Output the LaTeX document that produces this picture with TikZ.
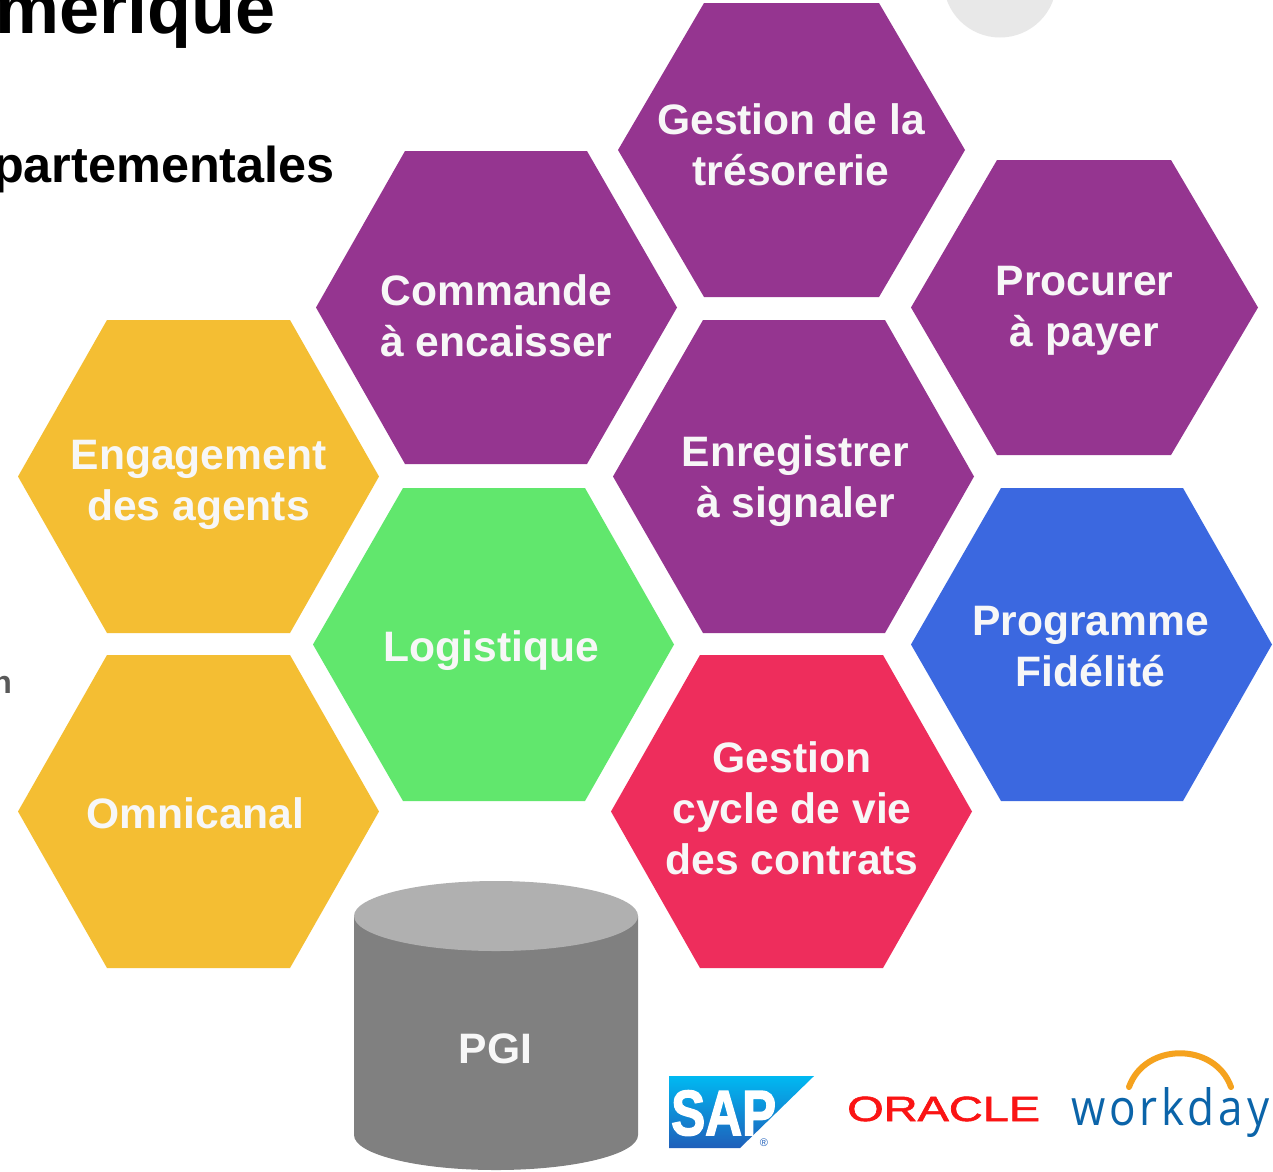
\documentclass[tikz,border=0pt]{standalone}
\usepackage{fontspec}
\setmainfont{Liberation Sans}
\newfontfamily\wdfont[LetterSpace=9]{Open Sans}
\newfontfamily\sapfont[FakeBold=2.5]{Liberation Sans Bold}
\newfontfamily\orfont[FakeBold=1.6]{Liberation Sans}
\usetikzlibrary{calc}
\definecolor{violetc}{HTML}{953590}
\definecolor{jaunec}{HTML}{F4BE33}
\definecolor{vertc}{HTML}{61E76D}
\definecolor{bleuc}{HTML}{3B68E0}
\definecolor{rosec}{HTML}{EE2D5C}
\definecolor{cylbody}{HTML}{808080}
\definecolor{cyltop}{HTML}{B0B0B0}
\definecolor{txtw}{HTML}{F7F7F7}
\definecolor{sapa}{HTML}{00B9F2}
\definecolor{sapb}{HTML}{1F5FBA}
\definecolor{oraclec}{HTML}{FA1414}
\definecolor{wdblue}{HTML}{0B64A9}
\definecolor{wdorange}{HTML}{F5A21E}
\tikzset{
  hexlabel/.style={inner sep=0pt,align=center,text=txtw,font=\fontsize{42.6}{51}\selectfont\bfseries},
  titletext/.style={inner sep=0pt,anchor=base east,text=black},
}
\newcommand{\hexa}[7]{% left, topleft, topright, right, top, bottom, colour
  \fill[#7] (#1,{(#5+#6)/2}) -- (#2,#5) -- (#3,#5) -- (#4,{(#5+#6)/2}) -- (#3,#6) -- (#2,#6) -- cycle;}
\begin{document}
\begin{tikzpicture}[x=1pt,y=-1pt]
\useasboundingbox (0,0) rectangle (1273,1171);
\clip (0,0) rectangle (1273,1171);
\fill[white] (0,0) rectangle (1273,1171);
% decorative circle
\fill[black!9] (1000,-19) circle[radius=56.5];
% titles
\node[titletext,font=\fontsize{72}{80}\selectfont\bfseries] (titre) at (275.5,33) {mérique};
\node[titletext,font=\fontsize{50.4}{60}\selectfont\bfseries] (soustitre) at (335,182.5) {partementales};
\node[titletext,text=black!65,font=\fontsize{32}{38}\selectfont\bfseries] (frag) at (12,693) {n};
% hexagons
\hexa{618}{704}{879}{965}{3}{297}{violetc}
\hexa{316}{405}{587}{677}{151}{464}{violetc}
\hexa{911}{997}{1171}{1258}{160}{455}{violetc}
\hexa{18}{107}{290}{379}{320}{633}{jaunec}
\hexa{613}{703}{885}{974}{320}{633}{violetc}
\hexa{313}{403}{585}{674}{488}{801}{vertc}
\hexa{911}{1001}{1183}{1272}{488}{801}{bleuc}
\hexa{18}{107}{290}{379}{655}{968}{jaunec}
\hexa{611}{700}{883}{972}{655}{968}{rosec}
% labels
\node[hexlabel] (tresorerie) at (791,149.5) {\strut Gestion de la\\\strut trésorerie};
\node[hexlabel] (commande) at (496.5,320.5) {\strut Commande\\\strut à encaisser};
\node[hexlabel] (procurer) at (1084.5,310.5) {\strut Procurer\\\strut à payer};
\node[hexlabel] (engagement) at (198.5,484.5) {\strut Engagement\\\strut des agents};
\node[hexlabel] (enregistrer) at (795.5,481.5) {\strut Enregistrer\\\strut à signaler};
\node[hexlabel] (logistique) at (491.5,651) {\strut Logistique};
\node[hexlabel] (programme) at (1090.5,650.5) {\strut Programme\\\strut Fidélité};
\node[hexlabel] (omnicanal) at (195.5,818) {\strut Omnicanal};
\node[hexlabel] (contrats) at (792,813.5) {\strut Gestion\\\strut cycle de vie\\\strut des contrats};
% cylinder
\fill[cylbody] (354,916) -- (354,1135) arc[start angle=180,end angle=0,x radius=142,y radius=35] -- (638,916) -- cycle;
\fill[cyltop] (496,916) ellipse[x radius=142,y radius=35];
\node[hexlabel] (pgi) at (495.5,1053) {\strut PGI};
% SAP logo
\shade[top color=sapa,bottom color=sapb] (669,1076) -- (814,1076) -- (740,1148) -- (669,1148) -- cycle;
\node[inner sep=0pt,anchor=base west,text=white,font=\fontsize{51}{51}\selectfont\sapfont,yscale=1.25] (sap) at (671,1135) {SAP};
\node[inner sep=0pt,text=sapb,font=\fontsize{11}{11}\selectfont] (sapr) at (764,1143) {®};
% Oracle logo
\node[inner sep=0pt,anchor=base west,text=oraclec,font=\fontsize{35}{35}\selectfont\orfont,xscale=1.34] (oracle) at (847,1121) {ORACLE};
% Workday logo
\node[inner sep=0pt,anchor=base west,text=wdblue,font=\fontsize{50}{50}\selectfont\wdfont,xscale=0.88] (workday) at (1071,1125) {workday};
\draw[wdorange,line width=6pt,line cap=round] (1129,1087) .. controls (1145,1042) and (1215,1042) .. (1231,1087);
\end{tikzpicture}
\end{document}
